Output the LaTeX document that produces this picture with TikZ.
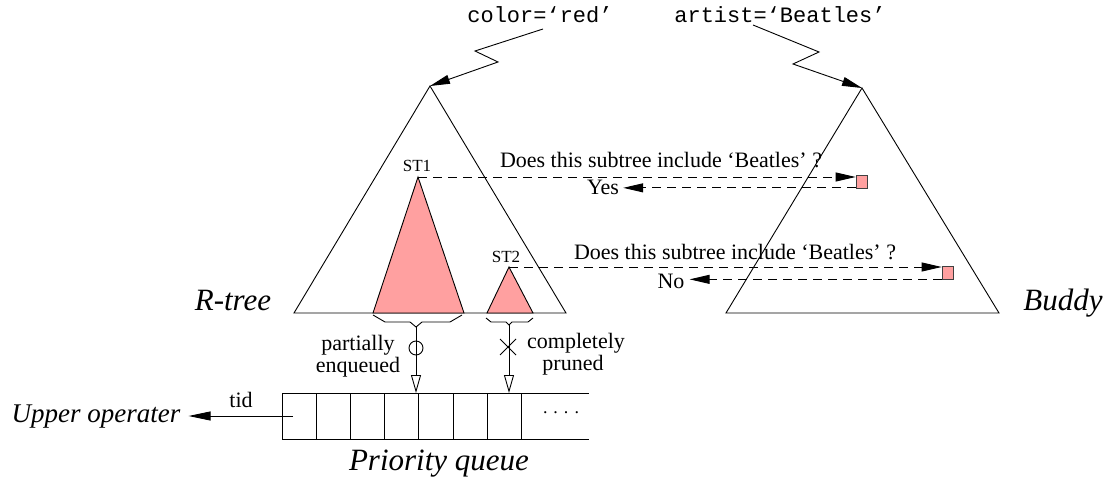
\documentclass[tikz,border=0pt]{standalone}
\usepackage{fontspec}
\setmainfont{Liberation Serif}
\setmonofont{Liberation Mono}
\usetikzlibrary{arrows.meta,calc}
\definecolor{pinkfill}{RGB}{255,160,160}
\begin{document}
\begin{tikzpicture}[x=1pt,y=-1pt,
  tri/.style={draw,line width=0.9pt,line join=miter},
  subtri/.style={draw,fill=pinkfill,line width=0.9pt},
  bolt/.style={draw,line width=0.9pt,-{Triangle[length=20pt,width=9pt]}},
  ask/.style={draw,line width=0.9pt,dash pattern=on 9pt off 6pt,-{Triangle[length=20pt,width=9pt]}},
  hole/.style={draw=black!75,fill=pinkfill,minimum width=11pt,minimum height=13pt,inner sep=0pt,line width=0.7pt},
  enq/.style={draw,line width=0.9pt,-{Triangle[open,length=18pt,width=10pt]}},
  outarrow/.style={draw,line width=0.9pt,-{Triangle[length=22pt,width=9pt]}},
  txt/.style={font=\fontsize{22}{26}\selectfont,inner sep=0pt,anchor=base},
  lab/.style={font=\fontsize{31}{36}\selectfont\itshape,inner sep=0pt,anchor=base},
  codetxt/.style={font=\fontsize{22}{26}\selectfont\ttfamily,inner sep=0pt,anchor=base},
  smalltxt/.style={font=\fontsize{17}{20}\selectfont,inner sep=0pt,anchor=base},
  qline/.style={draw,line width=0.9pt}
]
\useasboundingbox (0,0) rectangle (1106,481);

% key coordinates
\coordinate (rtop) at (430,86);
\coordinate (btop) at (862,88);
\coordinate (st1top) at (418,177);
\coordinate (st2top) at (509,267);

% big triangles
\draw[tri] (rtop) -- (294,313) -- (566,313) -- cycle;
\draw[tri] (btop) -- (726,313) -- (999,313) -- cycle;

% subtrees
\draw[subtri] (st1top) -- (373,313) -- (464,313) -- cycle;
\draw[subtri] (st2top) -- (487,313) -- (533,313) -- cycle;

% query texts
\node[codetxt] (qcolor) at (540,23) {color=‘red’};
\node[codetxt] (qartist) at (780,23) {artist=‘Beatles’};

% lightning arrows
\coordinate (b1) at (543,29);
\coordinate (b2) at (753,25);
\draw[bolt] (b1) -- (475,51) -- (498,62) -- (rtop);
\draw[bolt] (b2) -- (819,52) -- (793,64) -- (btop);

% labels
\node[lab] (rtree) at (233,310) {R-tree};
\node[lab] (buddy) at (1063,310) {Buddy};
\node[smalltxt] (st1) at (417,172) {ST1};
\node[smalltxt] (st2) at (506,262) {ST2};

% question boxes
\node[hole] (h1) at (861.5,181.5) {};
\node[hole] (h2) at (947.5,273) {};

\node[txt] (ask1) at (661,168) {Does this subtree include `Beatles' ?};
\node[txt] (ask2) at (735,260) {Does this subtree include `Beatles' ?};
\node[txt] (yes) at (603,195) {Yes};
\node[txt] (no) at (671,288) {No};

\draw[ask] (st1top) -- (st1top -| h1.west);
\draw[ask] ($(h1.south west)+(0,-0.5)$) -- ($(yes.east |- h1.south west)+(4,-0.5)$);
\draw[ask] (st2top) -- (st2top -| h2.west);
\draw[ask] ($(h2.south west)+(0,-0.5)$) -- ($(no.east |- h2.south west)+(5,-0.5)$);

% braces
\coordinate (br1) at (416,327);
\coordinate (br2) at (509,325);
\draw[line width=0.9pt] (373,315) -- (385,322) -- (410,322) -- (br1) -- (422,322) -- (450,322) -- (462,315);
\draw[line width=0.9pt] (486,318) -- (491,322) -- (506,322) -- (br2) -- (512,322) -- (528,322) -- (533,318);

% queue
\coordinate (qa) at (416,393);
\coordinate (qb) at (509,393);
\draw[qline] (282,439) -- (282,393) -- (589,393);
\draw[qline] (282,439) -- (589,439);
\foreach \x in {316,350,384,418,453,487,521} \draw[qline] (\x,393) -- (\x,439);
\node[font=\fontsize{18}{20}\selectfont,inner sep=0pt] (dots) at (561,413) {. . . .};

% enqueue arrows
\draw[enq] (br1) -- (qa);
\draw[enq] (br2) -- (qb);
\node[draw,circle,minimum size=14pt,inner sep=0pt,line width=0.9pt] (circ) at (416,348) {};
\draw[line width=0.9pt] (500,339) -- (516,355) (500,355) -- (516,339);

\node[txt] (part1) at (358,350) {partially};
\node[txt] (part2) at (358,372) {enqueued};
\node[txt] (comp1) at (576,348) {completely};
\node[txt] (comp2) at (573,370) {pruned};

% output
\node[font=\fontsize{27}{32}\selectfont\itshape,inner sep=0pt,anchor=base] (upper) at (96,422) {Upper operater};
\node[txt] (tid) at (241,407) {tid};
\coordinate (qin) at (293,416);
\draw[outarrow] (qin) -- ([xshift=8pt]upper.east |- qin);
\node[lab] (pq) at (439,470) {Priority queue};
\end{tikzpicture}
\end{document}
